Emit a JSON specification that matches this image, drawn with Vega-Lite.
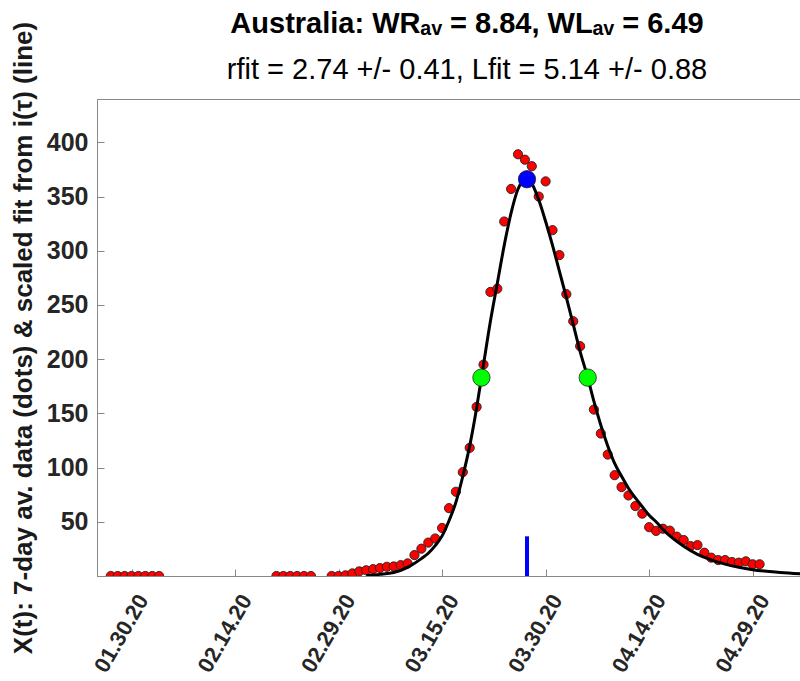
{
  "$schema": "https://vega.github.io/schema/vega-lite/v6.json",
  "width": 704,
  "height": 477,
  "autosize": {"type": "none"},
  "padding": {"left": 97, "top": 99, "right": 0, "bottom": 105},
  "background": "white",
  "title": {
    "text": "Australia: WRₐᵥ = 8.84, WLₐᵥ = 6.49",
    "subtitle": "rfit = 2.74 +/- 0.41, Lfit = 5.14 +/- 0.88",
    "anchor": "middle",
    "frame": "group",
    "dx": 18,
    "font": "Liberation Sans",
    "fontSize": 29,
    "fontWeight": "bold",
    "color": "#000000",
    "subtitleFont": "Liberation Sans",
    "subtitleFontSize": 29,
    "subtitleFontWeight": "normal",
    "subtitleColor": "#000000",
    "subtitlePadding": 17,
    "offset": -64
  },
  "datasets": {
    "dots": [
      {"date": "2020-01-27", "value": 0}, {"date": "2020-01-28", "value": 0},
      {"date": "2020-01-29", "value": 0}, {"date": "2020-01-30", "value": 0},
      {"date": "2020-01-31", "value": 0}, {"date": "2020-02-01", "value": 0},
      {"date": "2020-02-02", "value": 0}, {"date": "2020-02-03", "value": 0},
      {"date": "2020-02-20", "value": 0}, {"date": "2020-02-21", "value": 0},
      {"date": "2020-02-22", "value": 0}, {"date": "2020-02-23", "value": 0},
      {"date": "2020-02-24", "value": 0}, {"date": "2020-02-25", "value": 0},
      {"date": "2020-02-28", "value": 0}, {"date": "2020-02-29", "value": 0},
      {"date": "2020-03-01", "value": 0.6}, {"date": "2020-03-02", "value": 2.4},
      {"date": "2020-03-03", "value": 4.3}, {"date": "2020-03-04", "value": 5.3},
      {"date": "2020-03-05", "value": 6.3}, {"date": "2020-03-06", "value": 7.3},
      {"date": "2020-03-07", "value": 8.5}, {"date": "2020-03-08", "value": 8.8},
      {"date": "2020-03-09", "value": 10}, {"date": "2020-03-10", "value": 11.6},
      {"date": "2020-03-11", "value": 19.3}, {"date": "2020-03-12", "value": 25.2},
      {"date": "2020-03-13", "value": 30.8}, {"date": "2020-03-14", "value": 34.6},
      {"date": "2020-03-15", "value": 44.3}, {"date": "2020-03-16", "value": 62.6},
      {"date": "2020-03-17", "value": 77.7}, {"date": "2020-03-18", "value": 95.8},
      {"date": "2020-03-19", "value": 118.2}, {"date": "2020-03-20", "value": 156},
      {"date": "2020-03-21", "value": 195}, {"date": "2020-03-22", "value": 262},
      {"date": "2020-03-23", "value": 265}, {"date": "2020-03-24", "value": 327},
      {"date": "2020-03-25", "value": 357}, {"date": "2020-03-26", "value": 389},
      {"date": "2020-03-27", "value": 384}, {"date": "2020-03-28", "value": 378},
      {"date": "2020-03-29", "value": 350}, {"date": "2020-03-30", "value": 364},
      {"date": "2020-03-31", "value": 319}, {"date": "2020-04-01", "value": 296},
      {"date": "2020-04-02", "value": 260}, {"date": "2020-04-03", "value": 235},
      {"date": "2020-04-04", "value": 212}, {"date": "2020-04-05", "value": 182},
      {"date": "2020-04-06", "value": 153.5}, {"date": "2020-04-07", "value": 131.4},
      {"date": "2020-04-08", "value": 112}, {"date": "2020-04-09", "value": 93},
      {"date": "2020-04-10", "value": 82}, {"date": "2020-04-11", "value": 74.3},
      {"date": "2020-04-12", "value": 64.5}, {"date": "2020-04-13", "value": 57.5},
      {"date": "2020-04-14", "value": 45}, {"date": "2020-04-15", "value": 41.6},
      {"date": "2020-04-16", "value": 43.6}, {"date": "2020-04-17", "value": 41.8},
      {"date": "2020-04-18", "value": 36.3}, {"date": "2020-04-19", "value": 33.2},
      {"date": "2020-04-20", "value": 27.6}, {"date": "2020-04-21", "value": 28.5},
      {"date": "2020-04-22", "value": 21.5}, {"date": "2020-04-23", "value": 16.9},
      {"date": "2020-04-24", "value": 14.7}, {"date": "2020-04-25", "value": 14.7},
      {"date": "2020-04-26", "value": 12.9}, {"date": "2020-04-27", "value": 12.3},
      {"date": "2020-04-28", "value": 13.5}, {"date": "2020-04-29", "value": 10.8},
      {"date": "2020-04-30", "value": 10.8}
    ],
    "fit": [
      {"date": "2020-03-04T00:00:00Z", "value": 0.5},
      {"date": "2020-03-06T00:00:00Z", "value": 1.5},
      {"date": "2020-03-08T00:00:00Z", "value": 3.2},
      {"date": "2020-03-10T00:00:00Z", "value": 8},
      {"date": "2020-03-12T00:00:00Z", "value": 16},
      {"date": "2020-03-13T00:00:00Z", "value": 21},
      {"date": "2020-03-14T00:00:00Z", "value": 28},
      {"date": "2020-03-15T00:00:00Z", "value": 37},
      {"date": "2020-03-16T00:00:00Z", "value": 51},
      {"date": "2020-03-17T00:00:00Z", "value": 68},
      {"date": "2020-03-18T00:00:00Z", "value": 92},
      {"date": "2020-03-19T00:00:00Z", "value": 120},
      {"date": "2020-03-20T00:00:00Z", "value": 155},
      {"date": "2020-03-20T16:48:00Z", "value": 183},
      {"date": "2020-03-21T00:00:00Z", "value": 195},
      {"date": "2020-03-22T00:00:00Z", "value": 235},
      {"date": "2020-03-23T00:00:00Z", "value": 270},
      {"date": "2020-03-24T00:00:00Z", "value": 305},
      {"date": "2020-03-25T00:00:00Z", "value": 335},
      {"date": "2020-03-26T00:00:00Z", "value": 357},
      {"date": "2020-03-26T16:48:00Z", "value": 364},
      {"date": "2020-03-27T07:12:00Z", "value": 366},
      {"date": "2020-03-28T00:00:00Z", "value": 362},
      {"date": "2020-03-29T00:00:00Z", "value": 347},
      {"date": "2020-03-30T00:00:00Z", "value": 327},
      {"date": "2020-03-31T00:00:00Z", "value": 305},
      {"date": "2020-04-01T00:00:00Z", "value": 281},
      {"date": "2020-04-02T00:00:00Z", "value": 257},
      {"date": "2020-04-03T00:00:00Z", "value": 232},
      {"date": "2020-04-04T00:00:00Z", "value": 207},
      {"date": "2020-04-05T02:24:00Z", "value": 183},
      {"date": "2020-04-06T00:00:00Z", "value": 161},
      {"date": "2020-04-07T00:00:00Z", "value": 139},
      {"date": "2020-04-08T00:00:00Z", "value": 120},
      {"date": "2020-04-09T00:00:00Z", "value": 104},
      {"date": "2020-04-10T00:00:00Z", "value": 92},
      {"date": "2020-04-11T00:00:00Z", "value": 81},
      {"date": "2020-04-12T00:00:00Z", "value": 72},
      {"date": "2020-04-13T00:00:00Z", "value": 64},
      {"date": "2020-04-14T00:00:00Z", "value": 56},
      {"date": "2020-04-15T00:00:00Z", "value": 50},
      {"date": "2020-04-16T00:00:00Z", "value": 43},
      {"date": "2020-04-17T00:00:00Z", "value": 37},
      {"date": "2020-04-18T00:00:00Z", "value": 32},
      {"date": "2020-04-19T00:00:00Z", "value": 27.5},
      {"date": "2020-04-21T00:00:00Z", "value": 20},
      {"date": "2020-04-23T00:00:00Z", "value": 14.8},
      {"date": "2020-04-25T00:00:00Z", "value": 11},
      {"date": "2020-04-27T00:00:00Z", "value": 8},
      {"date": "2020-04-29T00:00:00Z", "value": 5.8},
      {"date": "2020-05-01T00:00:00Z", "value": 4.3},
      {"date": "2020-05-03T00:00:00Z", "value": 3.2},
      {"date": "2020-05-06T00:00:00Z", "value": 2.0}
    ],
    "peakbar": [
      {"date": "2020-03-27T07:12:00Z", "value": 0, "value2": 36.6}
    ],
    "keypoints": [
      {"date": "2020-03-20T16:48:00Z", "value": 183, "kind": "half"},
      {"date": "2020-04-05T02:24:00Z", "value": 183, "kind": "half"},
      {"date": "2020-03-27T07:12:00Z", "value": 366, "kind": "peak"}
    ]
  },
  "encoding": {
    "x": {
      "field": "date",
      "type": "temporal",
      "scale": {
        "type": "utc",
        "domain": [
          {"year": 2020, "month": 1, "date": 25, "utc": true},
          {"year": 2020, "month": 5, "date": 6, "utc": true}
        ]
      },
      "axis": {
        "title": null,
        "labelExpr": "utcFormat(datum.value, '%m.%d.%y')",
        "values": [
          {"year": 2020, "month": 1, "date": 30, "utc": true},
          {"year": 2020, "month": 2, "date": 14, "utc": true},
          {"year": 2020, "month": 2, "date": 29, "utc": true},
          {"year": 2020, "month": 3, "date": 15, "utc": true},
          {"year": 2020, "month": 3, "date": 30, "utc": true},
          {"year": 2020, "month": 4, "date": 14, "utc": true},
          {"year": 2020, "month": 4, "date": 29, "utc": true}
        ],
        "labelAngle": -60,
        "labelAlign": "right",
        "labelBaseline": "middle",
        "labelFontSize": 22,
        "labelOffset": 11,
        "labelPadding": 27
      }
    },
    "y": {
      "field": "value",
      "type": "quantitative",
      "scale": {"domain": [0, 440], "nice": false, "zero": true},
      "axis": {
        "title": "X(t): 7-day av. data (dots) & scaled fit from i(τ) (line)",
        "values": [50, 100, 150, 200, 250, 300, 350, 400],
        "labelFontSize": 25,
        "labelPadding": 16,
        "titlePadding": 10
      }
    }
  },
  "layer": [
    {
      "data": {"name": "dots"},
      "mark": {"type": "point", "shape": "circle", "filled": true, "size": 85, "fill": "#ff0000", "stroke": "#222222", "strokeWidth": 0.9, "opacity": 1, "clip": true}
    },
    {
      "data": {"name": "fit"},
      "mark": {"type": "line", "color": "#000000", "strokeWidth": 3, "interpolate": "monotone", "clip": true}
    },
    {
      "data": {"name": "peakbar"},
      "mark": {"type": "rule", "color": "#0000ff", "strokeWidth": 4},
      "encoding": {"y2": {"field": "value2"}}
    },
    {
      "data": {"name": "keypoints"},
      "mark": {"type": "point", "shape": "circle", "filled": true, "size": 300, "stroke": "#222222", "strokeWidth": 0.8, "opacity": 1},
      "encoding": {
        "fill": {"field": "kind", "type": "nominal", "scale": {"domain": ["half", "peak"], "range": ["#00ff00", "#0000ff"]}, "legend": null}
      }
    }
  ],
  "config": {
    "view": {"stroke": "#888888", "strokeWidth": 1},
    "axis": {
      "grid": false,
      "domainColor": "#888888",
      "domainWidth": 1,
      "tickColor": "#888888",
      "tickWidth": 1,
      "tickSize": -7,
      "labelFont": "Liberation Sans",
      "labelFontWeight": "bold",
      "labelColor": "#262626",
      "titleFont": "Liberation Sans",
      "titleFontSize": 26,
      "titleFontWeight": "bold",
      "titleColor": "#1a1a1a"
    }
  }
}
